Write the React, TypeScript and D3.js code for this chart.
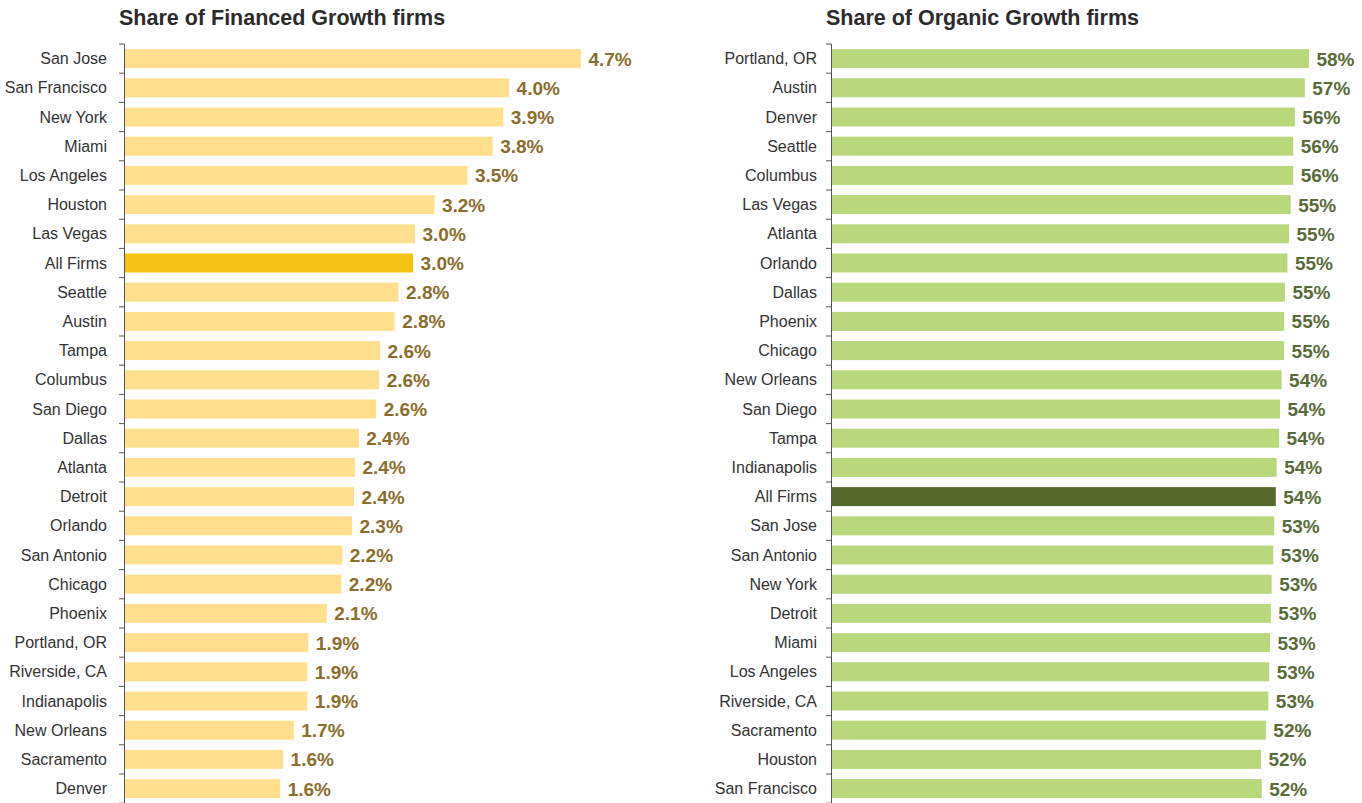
import React from "react";
import * as d3 from "d3";

const financedCities = [
  "San Jose", "San Francisco", "New York", "Miami", "Los Angeles", "Houston",
  "Las Vegas", "All Firms", "Seattle", "Austin", "Tampa", "Columbus",
  "San Diego", "Dallas", "Atlanta", "Detroit", "Orlando", "San Antonio",
  "Chicago", "Phoenix", "Portland, OR", "Riverside, CA", "Indianapolis",
  "New Orleans", "Sacramento", "Denver",
];
const financedValues = [
  4.70, 3.96, 3.90, 3.79, 3.53, 3.19,
  2.99, 2.97, 2.82, 2.78, 2.63, 2.62,
  2.59, 2.41, 2.37, 2.36, 2.34, 2.24,
  2.23, 2.08, 1.89, 1.88, 1.88,
  1.74, 1.63, 1.60,
];

const organicCities = [
  "Portland, OR", "Austin", "Denver", "Seattle", "Columbus", "Las Vegas",
  "Atlanta", "Orlando", "Dallas", "Phoenix", "Chicago", "New Orleans",
  "San Diego", "Tampa", "Indianapolis", "All Firms", "San Jose", "San Antonio",
  "New York", "Detroit", "Miami", "Los Angeles", "Riverside, CA",
  "Sacramento", "Houston", "San Francisco",
];
const organicValues = [
  57.6, 57.1, 55.9, 55.7, 55.7, 55.4,
  55.2, 55.0, 54.7, 54.6, 54.6, 54.3,
  54.1, 54.0, 53.7, 53.6, 53.4, 53.3,
  53.1, 53.0, 52.9, 52.8, 52.7,
  52.4, 51.8, 51.9,
];

const titles = ["Share of Financed Growth firms", "Share of Organic Growth firms"];

const FONT = "'Liberation Sans', Arial, sans-serif";

type PanelProps = {
  cities: string[];
  values: number[];
  title: string;
  axisX: number;
  labelGap: number;
  domainMax: number;
  pxPerUnit: number;
  barColor: string;
  highlightColor: string;
  valueColor: string;
  format: (v: number) => string;
};

function Panel(p: PanelProps) {
  const y = d3
    .scaleBand<string>()
    .domain(p.cities)
    .range([44, 44 + p.cities.length * 29.2])
    .paddingInner(0.35)
    .paddingOuter(0.175);
  const x = d3
    .scaleLinear()
    .domain([0, p.domainMax])
    .range([p.axisX + 1, p.axisX + 1 + p.domainMax * p.pxPerUnit]);
  const step = y.step();
  const top = y.range()[0];
  const ticks = d3.range(p.cities.length + 1).map((i) => top + i * step);
  return (
    <g>
      <text
        x={p.axisX - 5}
        y={25}
        fontFamily={FONT}
        fontWeight="bold"
        fontSize={21.5}
        fill="#2b2b2b"
      >
        {p.title}
      </text>
      {p.cities.map((c, i) => (
        <g key={c}>
          <rect
            x={x(0)}
            y={y(c)}
            width={x(p.values[i]) - x(0)}
            height={y.bandwidth()}
            fill={c === "All Firms" ? p.highlightColor : p.barColor}
          />
          <text
            x={p.axisX - p.labelGap}
            y={(y(c) as number) + y.bandwidth() / 2 + 5.5}
            textAnchor="end"
            fontFamily={FONT}
            fontSize={16}
            fill="#333"
          >
            {c}
          </text>
          <text
            x={x(p.values[i]) + 7.5}
            y={(y(c) as number) + y.bandwidth() / 2 + 7}
            fontFamily={FONT}
            fontWeight="bold"
            fontSize={19}
            fill={p.valueColor}
          >
            {p.format(p.values[i])}
          </text>
        </g>
      ))}
      <line
        x1={p.axisX + 0.5}
        x2={p.axisX + 0.5}
        y1={top}
        y2={ticks[ticks.length - 1]}
        stroke="#555"
        strokeWidth={1}
      />
      {ticks.map((t, i) => (
        <line
          key={i}
          x1={p.axisX - 5}
          x2={p.axisX + 0.5}
          y1={t}
          y2={t}
          stroke="#555"
          strokeWidth={1}
        />
      ))}
    </g>
  );
}

export default function App() {
  return (
    <svg
      width={1362}
      height={803}
      style={{ position: "absolute", left: 0, top: 0, background: "#fff" }}
    >
      <rect width={1362} height={803} fill="#fff" />
      <Panel
        cities={financedCities}
        values={financedValues}
        title={titles[0]}
        axisX={124}
        labelGap={17}
        domainMax={5}
        pxPerUnit={97}
        barColor="#FEDF8E"
        highlightColor="#F4C316"
        valueColor="#8A6E2C"
        format={(v) => d3.format(".1f")(v) + "%"}
      />
      <Panel
        cities={organicCities}
        values={organicValues}
        title={titles[1]}
        axisX={831}
        labelGap={14}
        domainMax={60}
        pxPerUnit={8.28}
        barColor="#B9D77B"
        highlightColor="#55692D"
        valueColor="#5A6B3A"
        format={(v) => d3.format(".0f")(v) + "%"}
      />
    </svg>
  );
}
